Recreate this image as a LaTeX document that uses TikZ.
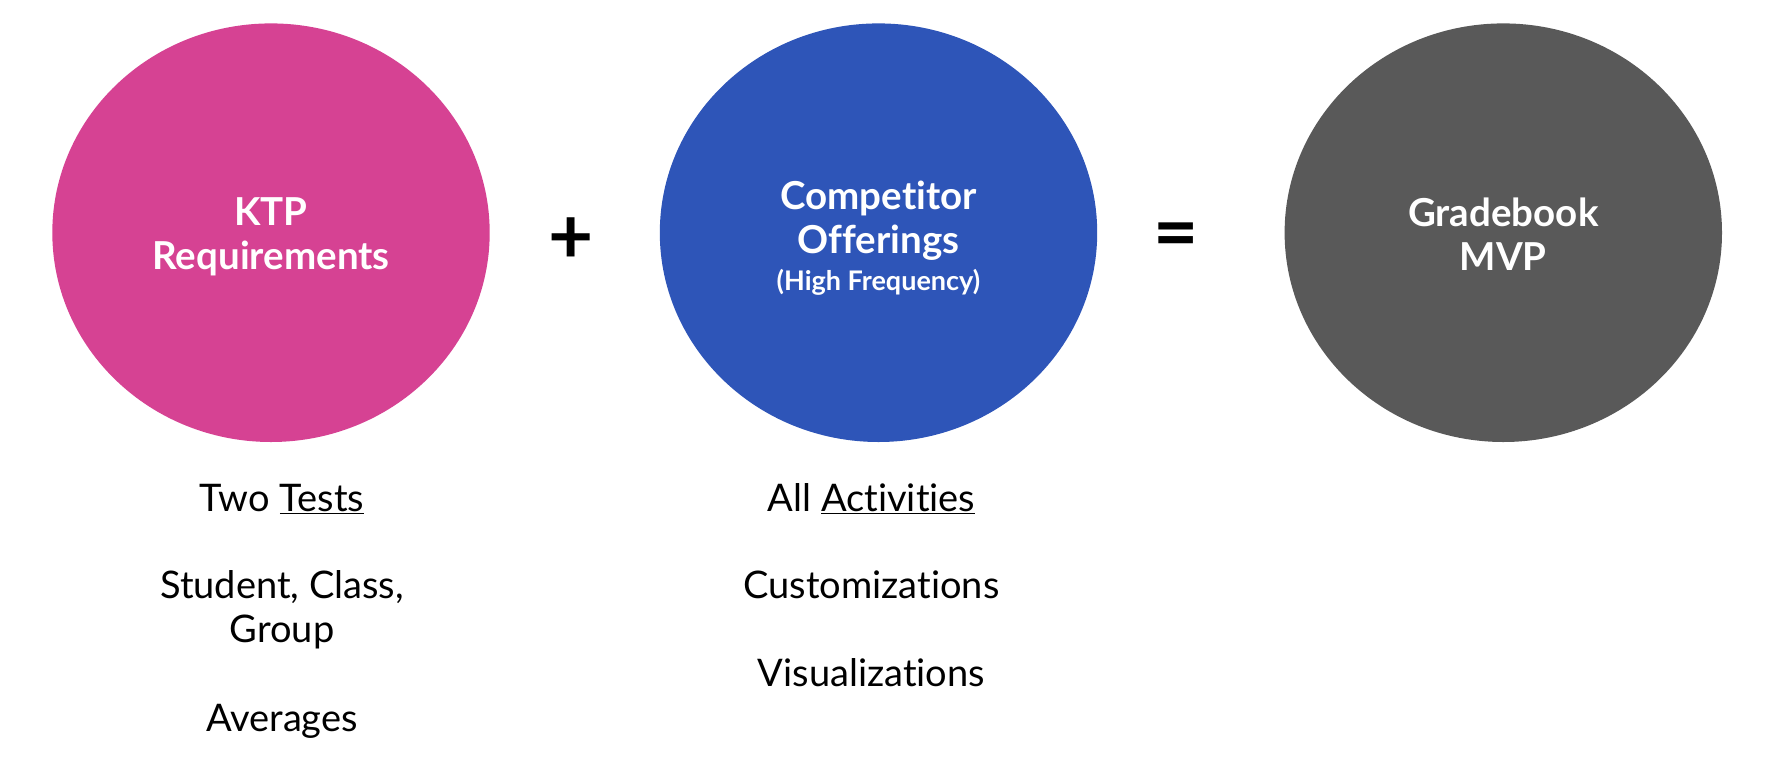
\documentclass[tikz,border=0pt]{standalone}
\usepackage{fontspec}
\setmainfont{Lato}[Ligatures=NoCommon]
\usetikzlibrary{positioning}

\definecolor{ktppink}{RGB}{214,66,147}
\definecolor{compblue}{RGB}{46,85,184}
\definecolor{mvpgray}{RGB}{89,89,89}

\begin{document}
\begin{tikzpicture}[x=1pt, y=-1pt,
        title/.style={text=white, align=center,
          font=\bfseries\fontsize{38.5}{44}\selectfont},
        item/.style={align=center, anchor=base,
          font=\fontsize{38}{44.7}\selectfont},
        sign/.style={font=\bfseries\fontsize{78}{80}\selectfont}
      ]
        \useasboundingbox (0,0) rectangle (1768,780);
        % the three circles
        \fill[ktppink] (271,232.7) ellipse (218.7 and 209.3);
        \fill[compblue] (878.5,232.7) ellipse (218.7 and 209.3);
        \fill[mvpgray] (1503.3,232.7) ellipse (218.7 and 209.3);
        \node[title] (ktp) at (271,237) {KTP\\Requirements};
        \node[title] (comp) at (878.5,238)
          {Competitor\\Offerings\\[-7pt]{\fontsize{27}{30}\selectfont(High Frequency)}};
        \node[title] (mvp) at (1503.3,234) {Gradebook\\MVP};
        \node[sign] (plus) at (571,240.5) {+};
        \node[sign] (eq) at (1176,241) {=};
        % lists under the circles
        \node[item] (tests) at (282,511.7) {Two \underline{Tests}};
        \node[item] (groups) at (282,642.7) {Student, Class,\\Group};
        \node[item] (avg) at (282,731.7) {Averages};
        \node[item] (acts) at (871.5,511.7) {All \underline{Activities}};
        \node[item] (custom) at (871.5,598) {Customizations};
        \node[item] (visual) at (871.5,686.7) {Visualizations};
      \end{tikzpicture}
\end{document}
